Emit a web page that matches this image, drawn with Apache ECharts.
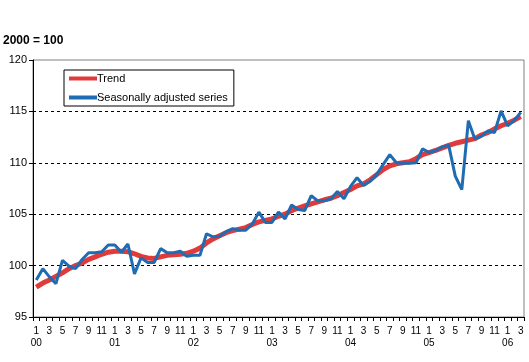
<!DOCTYPE html>
<html>
<head>
<meta charset="utf-8">
<script src="https://cdn.jsdelivr.net/npm/echarts@6/dist/echarts.min.js"></script>
<style>html,body{margin:0;padding:0;background:#fff}#c{width:529px;height:362px}</style>
</head>
<body>
<div id="c"></div>
<script>
var categories = [
'00-1','00-2','00-3','00-4','00-5','00-6','00-7','00-8','00-9','00-10','00-11','00-12',
'01-1','01-2','01-3','01-4','01-5','01-6','01-7','01-8','01-9','01-10','01-11','01-12',
'02-1','02-2','02-3','02-4','02-5','02-6','02-7','02-8','02-9','02-10','02-11','02-12',
'03-1','03-2','03-3','03-4','03-5','03-6','03-7','03-8','03-9','03-10','03-11','03-12',
'04-1','04-2','04-3','04-4','04-5','04-6','04-7','04-8','04-9','04-10','04-11','04-12',
'05-1','05-2','05-3','05-4','05-5','05-6','05-7','05-8','05-9','05-10','05-11','05-12',
'06-1','06-2','06-3'];

var trend = [
97.9, 98.3, 98.6, 98.95, 99.3, 99.7, 100.0, 100.25, 100.6, 100.85, 101.1, 101.3,
101.4, 101.4, 101.35, 101.15, 100.9, 100.75, 100.7, 100.85, 101.0, 101.05, 101.1, 101.2,
101.4, 101.7, 102.2, 102.6, 102.9, 103.2, 103.4, 103.55, 103.7, 104.0, 104.25, 104.4,
104.55, 104.8, 105.0, 105.35, 105.6, 105.8, 106.0, 106.2, 106.4, 106.55, 106.8, 107.1,
107.4, 107.75, 107.95, 108.35, 108.85, 109.35, 109.7, 109.9, 110.0, 110.1, 110.4, 110.8,
111.0, 111.2, 111.45, 111.7, 111.9, 112.05, 112.2, 112.35, 112.7, 112.95, 113.3, 113.6,
113.85, 114.15, 114.5];

var seasonallyAdjusted = [
98.6, 99.7, 98.9, 98.25, 100.5, 99.95, 99.7, 100.6, 101.25, 101.25, 101.35, 102.0,
102.0, 101.3, 102.1, 99.2, 100.75, 100.3, 100.3, 101.65, 101.25, 101.25, 101.4, 100.9,
101.0, 101.0, 103.1, 102.8, 102.85, 103.3, 103.6, 103.45, 103.45, 104.05, 105.2, 104.2,
104.2, 105.2, 104.55, 105.9, 105.45, 105.35, 106.8, 106.3, 106.3, 106.5, 107.2, 106.5,
107.7, 108.55, 107.8, 108.2, 108.85, 109.85, 110.8, 110.0, 109.95, 109.95, 110.0, 111.35,
111.0, 111.2, 111.55, 111.7, 108.7, 107.4, 114.1, 112.3, 112.6, 113.1, 112.95, 115.05,
113.6, 114.1, 114.9];

var yTicks = [95, 100, 105, 110, 115, 120];

var FONT = '"Liberation Sans", Arial, sans-serif';
var chart = echarts.init(document.getElementById('c'), null, {renderer: 'canvas'});
chart.setOption({
  animation: false,
  backgroundColor: '#fff',
  title: {
    text: '2000 = 100', left: 3, top: 35, padding: 0,
    textStyle: {fontFamily: FONT, fontSize: 12, fontWeight: 'bold', color: '#000'}
  },
  legend: {
    orient: 'vertical', left: 64, top: 70,
    padding: [3, 6, 3, 5], itemGap: 8,
    borderColor: '#000', borderWidth: 1, backgroundColor: '#fff',
    itemWidth: 28, itemHeight: 4, icon: 'rect',
    textStyle: {fontFamily: FONT, fontSize: 11, color: '#000', padding: [0, 0, 0, -5]},
    data: ['Trend', 'Seasonally adjusted series']
  },
  grid: {
    left: 33, top: 60, right: 5, bottom: 45,
    show: true, borderColor: '#808080', borderWidth: 1, backgroundColor: 'transparent'
  },
  xAxis: {
    type: 'category', data: categories, boundaryGap: true,
    axisLine: {lineStyle: {color: '#000', width: 1}},
    axisTick: {show: true, interval: 0, length: 4, lineStyle: {color: '#000'}},
    axisLabel: {
      interval: 1, margin: 8, fontFamily: FONT, fontSize: 10, color: '#000', lineHeight: 12,
      formatter: function (v) {
        var p = v.split('-');
        return p[1] === '1' ? p[1] + '\n' + p[0] : p[1];
      }
    },
    splitLine: {show: false}
  },
  yAxis: {
    type: 'value', min: yTicks[0], max: yTicks[yTicks.length - 1], interval: 5,
    axisLine: {show: true, lineStyle: {color: '#000', width: 1}},
    axisTick: {show: true, length: 4, lineStyle: {color: '#000'}},
    axisLabel: {margin: 6, fontFamily: FONT, fontSize: 11, color: '#000'},
    splitLine: {show: true, lineStyle: {color: ['transparent', '#000', '#000', '#000', '#000', 'transparent'], type: [3, 3], width: 1}}
  },
  series: [
    {
      name: 'Trend', type: 'line', data: trend, symbol: 'none', z: 2,
      lineStyle: {color: '#e03a3a', width: 5}, itemStyle: {color: '#e03a3a'}
    },
    {
      name: 'Seasonally adjusted series', type: 'line', data: seasonallyAdjusted, symbol: 'none', z: 3,
      lineStyle: {color: '#1f6cb3', width: 3}, itemStyle: {color: '#1f6cb3'}
    }
  ]
});
</script>
</body>
</html>
